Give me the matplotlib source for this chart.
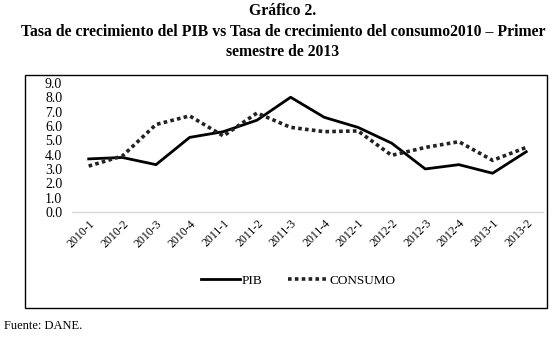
import matplotlib.pyplot as plt
from matplotlib.patches import Rectangle

periods = ['2010-1', '2010-2', '2010-3', '2010-4', '2011-1', '2011-2', '2011-3',
           '2011-4', '2012-1', '2012-2', '2012-3', '2012-4', '2013-1', '2013-2']
pib = [3.7, 3.8, 3.3, 5.2, 5.6, 6.4, 8.0, 6.6, 5.9, 4.8, 3.0, 3.3, 2.7, 4.2]
consumo = [3.2, 3.9, 6.1, 6.7, 5.3, 6.9, 5.9, 5.6, 5.65, 3.95, 4.5, 4.9, 3.6, 4.5]
yticks = [0, 1, 2, 3, 4, 5, 6, 7, 8, 9]

plt.rcParams['font.family'] = ['Liberation Serif', 'DejaVu Serif']

fig = plt.figure(figsize=(5.57, 3.37), dpi=100)
ax = fig.add_axes([0.129, 0.371, 0.846, 0.383])

x = range(len(periods))
ax.plot(x, pib, color='black', lw=2, label='PIB')
ax.plot(x, consumo, color='#222222', lw=2.6, linestyle=(0, (1, 0.9)), label='CONSUMO')

ax.set_xlim(-0.5, len(periods) - 0.5)
ax.set_ylim(0, 9)
ax.set_yticks(yticks)
ax.set_yticklabels([f'{v:.1f}' for v in yticks], fontsize=10)
ax.set_xticks(list(x))
ax.set_xticklabels(periods, rotation=45, ha='right', rotation_mode='anchor', fontsize=8.5)
ax.tick_params(length=0, pad=4)
ax.tick_params(axis='y', pad=7)
for s in ['top', 'right', 'left']:
    ax.spines[s].set_visible(False)
ax.spines['bottom'].set_color('#d9d9d9')
ax.spines['bottom'].set_linewidth(1)

fig.legend(loc='center', bbox_to_anchor=(0.535, 0.168), ncol=2, frameon=False,
           fontsize=9.5, handlelength=3.0, columnspacing=1.9, handletextpad=0.15)

fig.patches.append(Rectangle((25 / 557, 1 - 308 / 337), 522 / 557, 233 / 337,
                             transform=fig.transFigure, fill=False,
                             edgecolor='black', lw=1))

fig.text(0.508, 0.99, 'Gráfico 2.', ha='center', va='top', fontsize=11.3, fontweight='bold')
fig.text(0.508, 0.93, 'Tasa de crecimiento del PIB vs Tasa de crecimiento del consumo2010 – Primer',
         ha='center', va='top', fontsize=11.3, fontweight='bold')
fig.text(0.508, 0.87, 'semestre de 2013', ha='center', va='top', fontsize=11.3, fontweight='bold')
fig.text(0.008, 0.033, 'Fuente: DANE.', ha='left', va='center', fontsize=9)

fig.savefig('out.png', dpi=100)
